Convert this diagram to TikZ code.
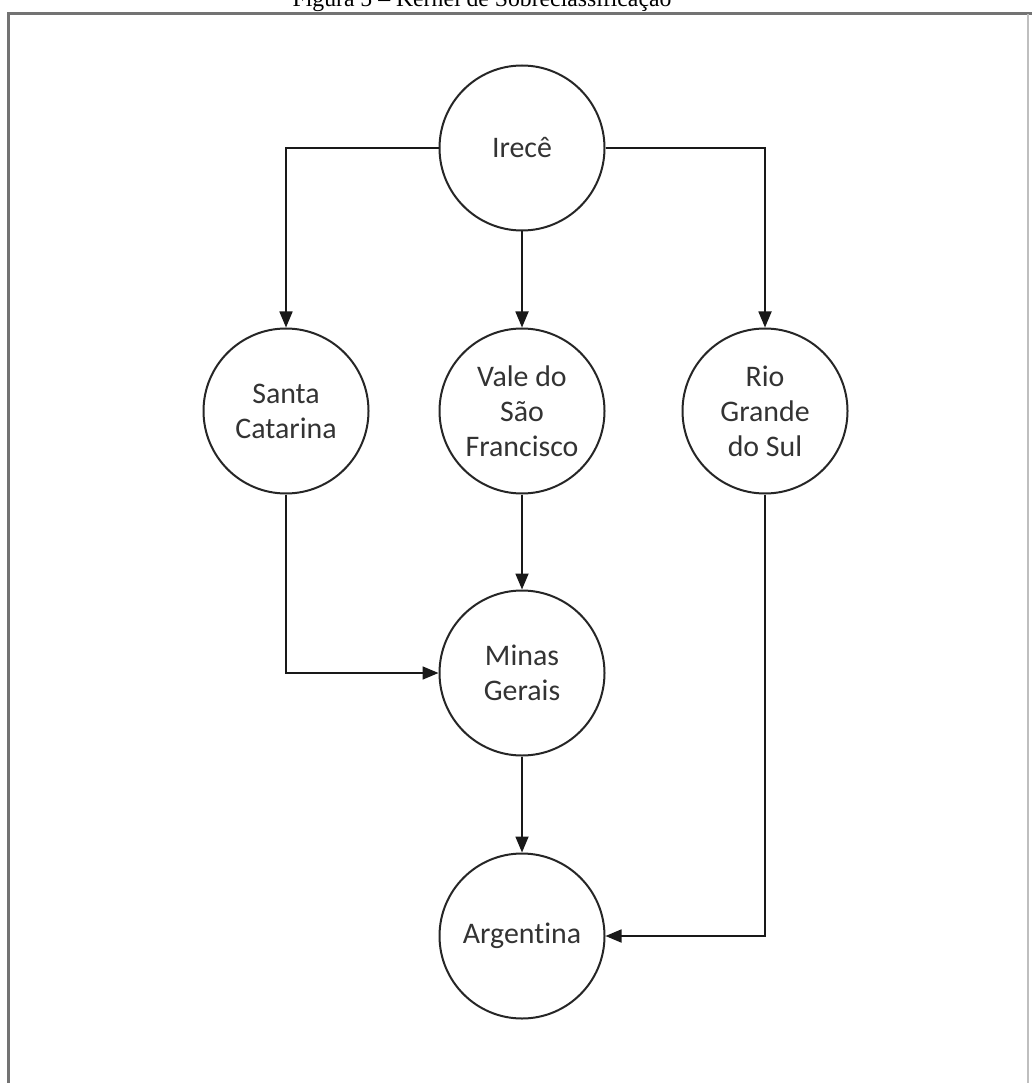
\documentclass[tikz,border=0pt]{standalone}
\usepackage{fontspec}
\setmainfont{Liberation Serif}
\newfontfamily\boxfont[Ligatures=NoCommon]{Carlito}
\usetikzlibrary{arrows.meta}
\tikzset{
  estado/.style={circle, draw=black!85, line width=0.04cm, minimum size=3.3cm, inner sep=0pt,
    align=center, text=black!80, font=\boxfont\fontsize{17}{20}\selectfont},
  fluxo/.style={line width=0.035cm, draw=black!90, -{Triangle[length=0.32cm,width=0.26cm]}},
  moldura/.style={line width=0.06cm, draw=black!55}
}

\begin{document}
\begin{tikzpicture}
		%%%%% START %%%%%
		
		\useasboundingbox (0, 0) rectangle (20.62, -21.66);
		
		\node[anchor=base, font=\fontsize{13.5}{15}\selectfont] (titulo) at (9.64, -0.14) {Figura 5 -- Kernel de Sobreclassificação};
		\draw[moldura] (0.18, -21.8) -- (0.18, -0.28) -- (20.8, -0.28);
		\draw[line width=0.03cm, draw=black!25] (20.56, -0.28) -- (20.56, -21.8);
		
		\node[estado] (irece) at (10.44, -2.96) {Irecê};
		\node[estado] (santa) at (5.72, -8.22) {Santa\\Catarina};
		\node[estado] (vale) at (10.44, -8.22) {Vale do\\São\\Francisco};
		\node[estado] (rio) at (15.3, -8.22) {Rio\\Grande\\do Sul};
		\node[estado] (minas) at (10.44, -13.46) {Minas\\Gerais};
		\node[estado] (argentina) at (10.44, -18.72) {Argentina};
		
		\draw[fluxo] (irece.west) -| (santa.north);
		\draw[fluxo] (irece.east) -| (rio.north);
		\draw[fluxo] (irece.south) -- (vale.north);
		\draw[fluxo] (vale.south) -- (minas.north);
		\draw[fluxo] (santa.south) |- (minas.west);
		\draw[fluxo] (minas.south) -- (argentina.north);
		\draw[fluxo] (rio.south) |- (argentina.east);
		
		%%%%% END %%%%%
	\end{tikzpicture}
\end{document}
